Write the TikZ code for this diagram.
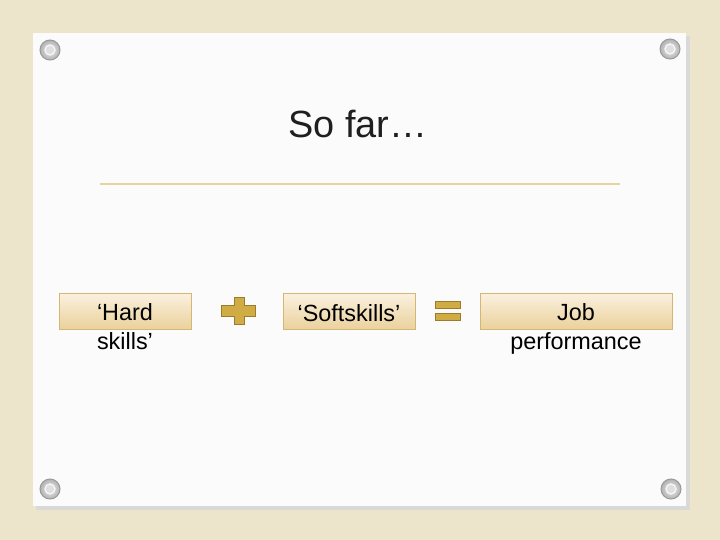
\documentclass[tikz,border=0pt]{standalone}
\usepackage{fontspec}
\setmainfont{Liberation Sans}
\definecolor{canvas}{HTML}{EDE4CC}
\definecolor{rule}{HTML}{E6D39C}
\definecolor{boxtop}{HTML}{FAF1DF}
\definecolor{boxbot}{HTML}{EBD19C}
\definecolor{boxline}{HTML}{D4B675}
\definecolor{gold}{HTML}{D0AC45}
\definecolor{golddark}{HTML}{9C7C2C}
\tikzset{
  termbox/.style={draw=boxline, line width=0.8pt, top color=boxtop, bottom color=boxbot, minimum height=36bp, inner sep=0pt},
  termtext/.style={font=\fontsize{23.5}{29}\selectfont, text=black, align=center},
  grommet/.style={circle, minimum size=20bp, inner sep=0pt, draw=gray!80, line width=1pt, inner color=white!85!gray, outer color=gray!60},
  opfill/.style={fill=gold, draw=golddark, line width=0.9pt}
}
\begin{document}
\begin{tikzpicture}[x=1bp,y=-1bp]
\useasboundingbox (0,0) rectangle (720,540);
\fill[canvas] (0,0) rectangle (720,540);
% card with shadow
\fill[black!15] (36,36) rectangle (690,510);
\fill[white!97!gray] (33,33) rectangle (686,506);
% grommets
\foreach \n/\x/\y in {g1/50/50, g2/670/49, g3/50/489, g4/671/489}{
  \node[grommet] (\n) at (\x,\y) {};
  \draw[white!92!gray, line width=1.4pt, fill=gray!25] (\x,\y) circle (5bp);
}
% title
\node[font=\fontsize{38}{42}\selectfont, text=black!88] (title) at (358,124) {So far…};
\coordinate (r1) at (100,184);
\coordinate (r2) at (620,184);
\draw[rule, line width=1.6pt] (r1) -- (r2);
% boxes
\node[termbox, minimum width=132bp] (hard) at (125,311) {};
\node[termtext, anchor=north] (hardt) at (125,300) {‘Hard\\skills’};
\node[termbox, minimum width=132bp] (soft) at (349,311.5) {};
\node[termtext] (softt) at (349,313) {‘Softskills’};
\node[termbox, minimum width=192bp] (job) at (576,311) {};
\node[termtext, anchor=north] (jobt) at (576,300) {Job\\performance};
% plus
\node (plus) at (238,310.5) {};
\filldraw[opfill] (234,297) -- (244,297) -- (244,305) -- (255,305) -- (255,316) -- (244,316) -- (244,324) -- (234,324) -- (234,316) -- (221,316) -- (221,305) -- (234,305) -- cycle;
% equals
\node (eq) at (448,311) {};
\filldraw[opfill] (435.5,301.5) rectangle (460.5,308.5);
\filldraw[opfill] (435.5,313) rectangle (460.5,320);
\end{tikzpicture}
\end{document}
